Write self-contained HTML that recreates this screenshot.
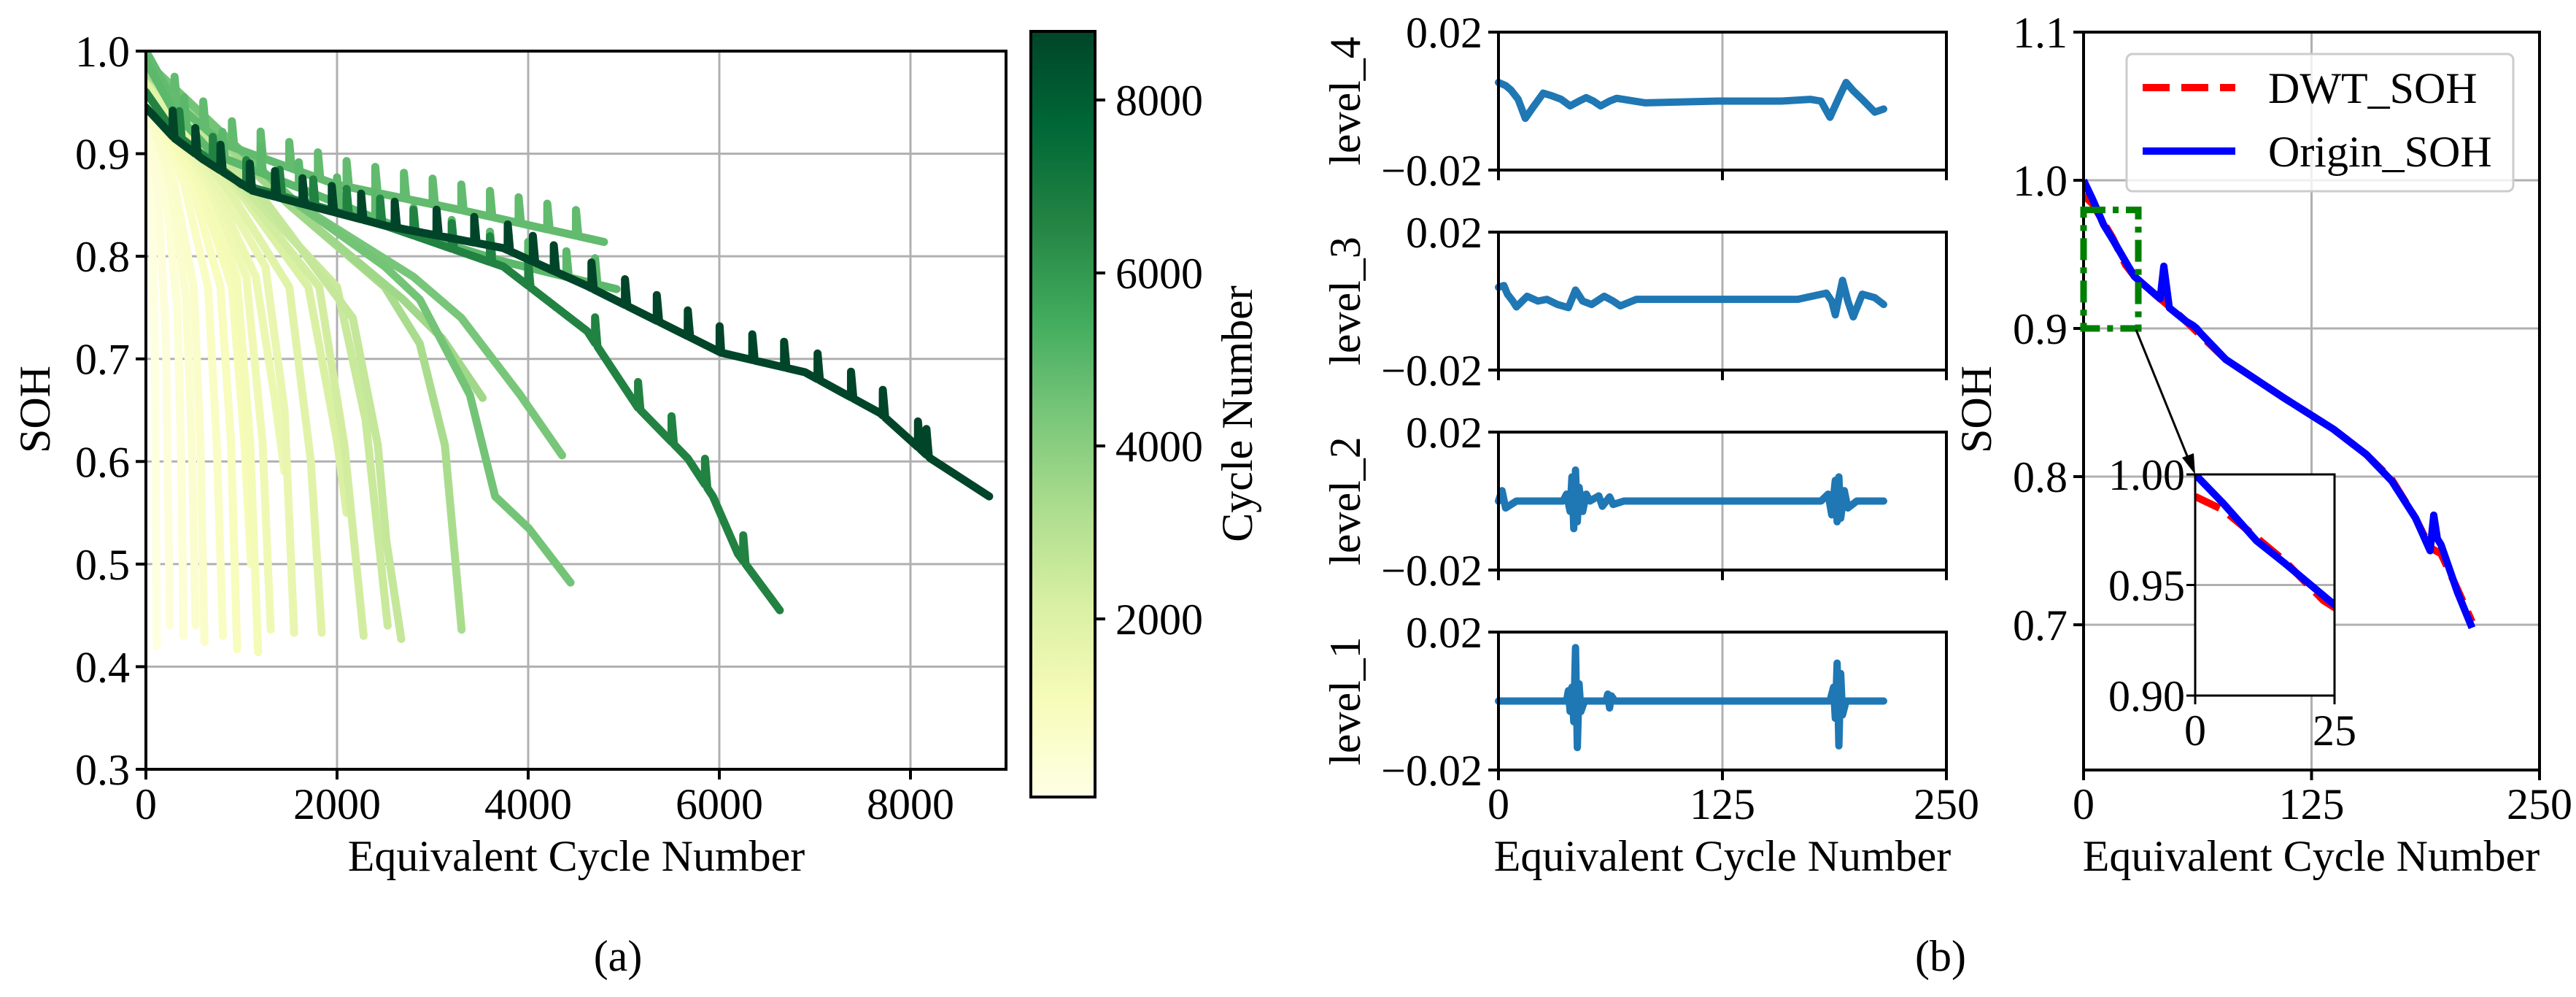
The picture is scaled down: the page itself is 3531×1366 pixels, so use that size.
<!DOCTYPE html>
<html><head><meta charset="utf-8">
<style>
html,body{margin:0;padding:0;background:#fff;width:3531px;height:1366px;overflow:hidden;}
svg{display:block;font-family:"Liberation Serif","Times New Roman",serif;}
svg text{font-family:"Liberation Serif","Times New Roman",serif !important;font-size:60px;fill:#000;}
</style></head>
<body>
<svg id="fig" width="3531" height="1366" viewBox="0 0 3531 1366" xmlns="http://www.w3.org/2000/svg">
<defs>
<linearGradient id="cbgrad" x1="0" y1="1" x2="0" y2="0">
<stop offset="0" stop-color="#ffffe5"/><stop offset="0.125" stop-color="#f7fcb9"/><stop offset="0.25" stop-color="#d9f0a3"/><stop offset="0.375" stop-color="#addd8e"/><stop offset="0.5" stop-color="#78c679"/><stop offset="0.625" stop-color="#41ab5d"/><stop offset="0.75" stop-color="#238443"/><stop offset="0.875" stop-color="#006837"/><stop offset="1" stop-color="#004529"/>
</linearGradient>
<clipPath id="clipA"><rect x="200" y="70" width="1179" height="983"/></clipPath>
<clipPath id="clipR"><rect x="2856" y="44" width="625" height="1011"/></clipPath>
<clipPath id="clipI"><rect x="3009" y="650" width="191" height="304"/></clipPath>
</defs>
<g id="root"></g>
</svg>
<script>
// ---------- Panel (a) data ----------
const curveCycles = [120,250,400,520,620,800,960,1100,1180,1310,1450,1560,1850,2100,2300,2550,2690,3320,3530,4360,4450,4800,4930,6650,8800];
const curvePoints = [
 [[0,0.93],[60,0.86],[95,0.7],[114,0.42]],
 [[0,0.94],[130,0.86],[210,0.72],[250,0.44]],
 [[0,0.95],[200,0.87],[330,0.75],[370,0.6],[394,0.43]],
 [[0,0.95],[260,0.87],[420,0.76],[480,0.62],[520,0.44]],
 [[0,0.95],[300,0.87],[500,0.77],[570,0.62],[613,0.424]],
 [[0,0.96],[400,0.87],[650,0.77],[740,0.62],[806,0.43]],
 [[0,0.96],[480,0.87],[780,0.77],[890,0.62],[955,0.417]],
 [[0,0.96],[550,0.87],[900,0.77],[1030,0.62],[1100,0.50]],
 [[0,0.97],[600,0.87],[950,0.78],[1090,0.62],[1174,0.414]],
 [[0,0.97],[650,0.87],[1050,0.78],[1220,0.62],[1306,0.436]],
 [[0,0.97],[700,0.87],[1150,0.78],[1350,0.66],[1450,0.59]],
 [[0,0.97],[750,0.87],[1250,0.79],[1450,0.65],[1551,0.433]],
 [[0,0.97],[900,0.86],[1500,0.77],[1726,0.6],[1840,0.433]],
 [[0,0.98],[1000,0.86],[1700,0.77],[2000,0.62],[2100,0.55]],
 [[0,0.98],[1000,0.865],[1814,0.77],[2077,0.616],[2278,0.43]],
 [[0,0.98],[1100,0.86],[2000,0.77],[2300,0.64],[2530,0.44]],
 [[0,0.98],[1200,0.86],[2164,0.74],[2427,0.616],[2515,0.523],[2672,0.427]],
 [[0,0.98],[1500,0.85],[2500,0.77],[2865,0.715],[3128,0.616],[3303,0.436]],
 [[0,0.99],[1500,0.85],[2690,0.758],[3100,0.72],[3523,0.662]],
 [[0,0.99],[1600,0.85],[2800,0.78],[3300,0.74],[3915,0.665],[4355,0.606]],
 [[0,0.99],[1600,0.85],[2500,0.79],[2865,0.758],[3390,0.665],[3654,0.566],[4005,0.535],[4443,0.482]],
 [[0,1.0],[300,0.95],[800,0.91],[1989,0.87],[3300,0.845],[4793,0.814]],
 [[0,0.99],[300,0.94],[700,0.90],[2865,0.82],[3740,0.795],[4925,0.768]],
 [[0,0.96],[300,0.92],[1000,0.87],[2500,0.83],[3740,0.79],[4618,0.727],[5144,0.653],[5670,0.603],[5933,0.566],[6195,0.51],[6633,0.455]],
 [[0,0.945],[300,0.915],[590,0.895],[1113,0.864],[2500,0.83],[3740,0.808],[4618,0.771],[6020,0.706],[6896,0.687],[7685,0.647],[8211,0.603],[8824,0.566]]
];
const spikes21 = [300,600,900,1200,1500,1800,2100,2400,2700,3000,3300,3600,3900,4200,4500];
const spikes22 = [400,800,1200,1600,2000,2400,2800,3200,3600,4000,4400,4700];
const spikes23 = [350,700,1050,1400,1750,2100,2450,2800,3200,3600,4000,4700,5150,5500,5850,6250];
const spikes24 = [280,517,780,1087,1350,1639,1945,2252,2603,3041,3435,3786,4049,4268,4662,5013,5346,5670,6003,6345,6678,7028,7378,7711,8079,8167];
const xTicksA = [0,2000,4000,6000,8000];
const yTicksA = [0.3,0.4,0.5,0.6,0.7,0.8,0.9,1.0];
const cbTicks = [2000,4000,6000,8000];

// ---------- Panel (b) data ----------
const lvl4 = [[0,0.0054],[4,0.0045],[7,0.0032],[11,0.0005],[15,-0.005],[19,-0.002],[25,0.0023],[30,0.0015],[35,0.0005],[40,-0.0014],[45,0],[49,0.001],[53,0],[57,-0.0014],[62,0],[66,0.0008],[82,-0.0005],[122,0],[158,0],[174,0.0005],[180,0],[185,-0.0047],[190,0.001],[194,0.0054],[198,0.003],[203,0.0005],[210,-0.0032],[215,-0.0023]];
const lvl3 = [[0,0.004],[3,0.0045],[5,0.002],[8,0],[10,-0.0017],[16,0.0014],[22,0],[27,0.0005],[33,-0.001],[39,-0.0019],[43,0.0032],[47,0],[52,-0.001],[59,0.0014],[64,0],[68,-0.0014],[77,0.0005],[167,0.0005],[183,0.0023],[186,0],[188,-0.004],[192,0.006],[195,0],[198,-0.0046],[203,0.002],[210,0.001],[215,-0.001]];
const lvl2 = [[0,0],[2,0.003],[4,-0.002],[10,0],[36,0],[38,0.002],[40,-0.003],[41,0.007],[42,-0.008],[43,0.009],[44,-0.006],[45,0.004],[47,-0.003],[49,0.002],[51,0],[56,0.0015],[58,-0.0015],[62,0.0012],[64,-0.001],[70,0],[180,0],[184,0.002],[186,-0.004],[188,0.006],[189,-0.006],[190,0.007],[191,-0.005],[193,0.003],[195,-0.002],[200,0],[215,0]];
const lvl1 = [[0,0],[38,0],[39,0.003],[40,-0.003],[41,0.004],[42,-0.006],[43,0.0155],[44,-0.0135],[45,0.005],[46,-0.003],[48,0],[60,0],[61,0.002],[62,-0.002],[63,0.0015],[65,0],[185,0],[187,0.004],[188,-0.005],[189,0.011],[190,-0.013],[191,0.008],[192,-0.004],[194,0],[215,0]];
const levelNames = ["level_4","level_3","level_2","level_1"];
const xTicksB = [0,125,250];
const originSOH = [[0,1.0],[5,0.987],[11,0.97],[16,0.96],[25,0.941],[28,0.935],[42,0.92],[44,0.942],[47,0.914],[56,0.905],[60,0.902],[62,0.9],[64,0.897],[78,0.879],[110,0.853],[137,0.832],[155,0.815],[169,0.797],[182,0.772],[190,0.75],[192,0.774],[194,0.758],[196,0.754],[205,0.722],[213,0.698]];
const dwtSOH = [[0,0.99],[5,0.984],[16,0.961],[23,0.943],[28,0.935],[42,0.92],[47,0.915],[56,0.905],[78,0.879],[110,0.853],[137,0.832],[155,0.815],[169,0.798],[182,0.772],[190,0.752],[196,0.748],[205,0.724],[213,0.702]];
const yTicksR = [0.7,0.8,0.9,1.0,1.1];
const yTicksI = [0.90,0.95,1.00];
const xTicksI = [0,25];

// ---------- helpers ----------
const NS="http://www.w3.org/2000/svg";
const root=document.getElementById('root');
function mk(tag,attrs,parent){const e=document.createElementNS(NS,tag);for(const k in attrs)e.setAttribute(k,attrs[k]);(parent||root).appendChild(e);return e;}
function ptsStr(arr,sx,sy){return arr.map(p=>sx(p[0]).toFixed(1)+','+sy(p[1]).toFixed(1)).join(' ');}
const ylgn=["#ffffe5","#f7fcb9","#d9f0a3","#addd8e","#78c679","#41ab5d","#238443","#006837","#004529"];
function hex2rgb(h){return [parseInt(h.slice(1,3),16),parseInt(h.slice(3,5),16),parseInt(h.slice(5,7),16)];}
function cmap(t){t=Math.max(0,Math.min(1,t));const f=t*8,i=Math.min(7,Math.floor(f)),r=f-i;const a=hex2rgb(ylgn[i]),b=hex2rgb(ylgn[i+1]);return 'rgb('+a.map((v,k)=>Math.round(v+(b[k]-v)*r)).join(',')+')';}
function interp(arr,x){for(let i=0;i<arr.length-1;i++){if(x>=arr[i][0]&&x<=arr[i+1][0]){const t=(x-arr[i][0])/(arr[i+1][0]-arr[i][0]);return arr[i][1]+t*(arr[i+1][1]-arr[i][1]);}}return arr[arr.length-1][1];}
function txt(x,y,s,anchor,parent,extra){const t=mk('text',Object.assign({x:x,y:y,'text-anchor':anchor||'middle','font-family':'Liberation Serif, serif'},extra||{}),parent);t.textContent=s;return t;}

// ---------- Panel (a) ----------
const AX={l:200,r:1379,t:70,b:1054};
const xA=v=>AX.l+(v/9000)*(AX.r-AX.l);
const yA=v=>AX.b-(v-0.3)/0.7*(AX.b-AX.t);
const gA=mk('g',{});


xTicksA.forEach(v=>{if(v>0){const l=mk('line',{x1:xA(v),x2:xA(v),y1:AX.t,y2:AX.b,stroke:'#b0b0b0','stroke-width':3},gA);}});
yTicksA.forEach(v=>{if(v>0.3&&v<1.0){const l=mk('line',{x1:AX.l,x2:AX.r,y1:yA(v),y2:yA(v),stroke:'#b0b0b0','stroke-width':3},gA);}});
const curvesG=mk('g',{'clip-path':'url(#clipA)'},gA);


const spikeMap={21:spikes21,22:spikes22,23:spikes23,24:spikes24};
const cbMin=-60,cbMax=8793;
curveCycles.forEach((c,i)=>{
  let pts=curvePoints[i].slice();
  const sp=spikeMap[i];
  if(sp){
    const base=pts;
    let all=[...base];
    sp.forEach(s=>{const y=interp(base,s);all.push([s-1,y,0],[s,y+0.025,1],[s+25,interp(base,s+25),2]);});
    all.sort((a,b)=>a[0]-b[0]||((a[2]||0)-(b[2]||0)));
    pts=all;
  }
  const pl=mk('polyline',{points:ptsStr(pts,xA,yA),fill:'none',stroke:cmap((c-cbMin)/(cbMax-cbMin)),'stroke-width':11,'stroke-linejoin':'round','stroke-linecap':'round'},curvesG);
  
  
});
const frA=mk('rect',{x:AX.l,y:AX.t,width:AX.r-AX.l,height:AX.b-AX.t,fill:'none',stroke:'#000','stroke-width':4},gA);


xTicksA.forEach(v=>{mk('line',{x1:xA(v),x2:xA(v),y1:AX.b,y2:AX.b+14,stroke:'#000','stroke-width':4},gA);const t=txt(xA(v),1122,String(v),'middle',gA);});
yTicksA.forEach(v=>{mk('line',{x1:AX.l-14,x2:AX.l,y1:yA(v),y2:yA(v),stroke:'#000','stroke-width':4},gA);const t=txt(AX.l-22,yA(v)+21,v.toFixed(1),'end',gA);});
let t1=txt(790,1193,'Equivalent Cycle Number','middle',gA);


let t2=txt(0,0,'SOH','middle',gA,{transform:'translate(68,561) rotate(-90)'});


// colorbar
const CB={l:1413,r:1501,t:43,b:1092};
const yCB=v=>848-(v-2000)*(711/6000);
const cbr=mk('rect',{x:CB.l,y:CB.t,width:CB.r-CB.l,height:CB.b-CB.t,fill:'url(#cbgrad)',stroke:'#000','stroke-width':4},gA);


cbTicks.forEach(v=>{mk('line',{x1:CB.r,x2:CB.r+14,y1:yCB(v),y2:yCB(v),stroke:'#000','stroke-width':4},gA);const t=txt(CB.r+28,yCB(v)+21,String(v),'start',gA);});
let t3=txt(0,0,'Cycle Number','middle',gA,{transform:'translate(1716,567) rotate(-90)'});


let t4=txt(847,1330,'(a)','middle',gA);



// ---------- Panel (b) levels ----------
const LV={l:2054,r:2668,h:189};
const lvTops=[44,318,592,866];
const lvData=[lvl4,lvl3,lvl2,lvl1];
const xB=v=>LV.l+v/250*(LV.r-LV.l);
lvData.forEach((d,i)=>{
  const top=lvTops[i],bot=top+LV.h;
  const yL=v=>bot-(v+0.02)/0.04*LV.h;
  const g=mk('g',{});
  
  
  mk('line',{x1:xB(125),x2:xB(125),y1:top,y2:bot,stroke:'#b0b0b0','stroke-width':3},g);
  const pl=mk('polyline',{points:ptsStr(d,xB,yL),fill:'none',stroke:'#1f77b4','stroke-width':10,'stroke-linejoin':'round','stroke-linecap':'round'},g);
  
  
  mk('rect',{x:LV.l,y:top,width:LV.r-LV.l,height:LV.h,fill:'none',stroke:'#000','stroke-width':4},g);
  xTicksB.forEach(v=>{mk('line',{x1:xB(v),x2:xB(v),y1:bot,y2:bot+14,stroke:'#000','stroke-width':4},g);
    if(i===3){const t=txt(xB(v),1122,String(v),'middle',g);}});
  [[0.02,'0.02'],[-0.02,'\u22120.02']].forEach(p=>{mk('line',{x1:LV.l-14,x2:LV.l,y1:yL(p[0]),y2:yL(p[0]),stroke:'#000','stroke-width':4},g);const t=txt(LV.l-22,yL(p[0])+21,p[1],'end',g);});
  const lt=txt(0,0,levelNames[i],'middle',g,{transform:'translate(1864,'+(top+LV.h/2)+') rotate(-90)'});
  
  
});
let t5=txt(2361,1193,'Equivalent Cycle Number','middle');



// ---------- Panel (b) SOH ----------
const R={l:2856,r:3481,t:44,b:1055};
const xR=v=>R.l+v/250*(R.r-R.l);
const yR=v=>R.t+(1.1-v)/0.1*203;
const gR=mk('g',{});


mk('line',{x1:xR(125),x2:xR(125),y1:R.t,y2:R.b,stroke:'#b0b0b0','stroke-width':3},gR);
yTicksR.forEach(v=>{if(v<1.1)mk('line',{x1:R.l,x2:R.r,y1:yR(v),y2:yR(v),stroke:'#b0b0b0','stroke-width':3},gR);});
const cR=mk('g',{'clip-path':'url(#clipR)'},gR);
const rl=mk('polyline',{points:ptsStr(dwtSOH,xR,yR),fill:'none',stroke:'#ff0000','stroke-width':10,'stroke-dasharray':'37,16'},cR);


const bl=mk('polyline',{points:ptsStr(originSOH,xR,yR),fill:'none',stroke:'#0000ff','stroke-width':10,'stroke-linejoin':'round'},cR);


mk('rect',{x:R.l,y:R.t,width:R.r-R.l,height:R.b-R.t,fill:'none',stroke:'#000','stroke-width':4},gR);
xTicksB.forEach(v=>{mk('line',{x1:xR(v),x2:xR(v),y1:R.b,y2:R.b+14,stroke:'#000','stroke-width':4},gR);const t=txt(xR(v),1122,String(v),'middle',gR);});
yTicksR.forEach(v=>{mk('line',{x1:R.l-14,x2:R.l,y1:yR(v),y2:yR(v),stroke:'#000','stroke-width':4},gR);const t=txt(R.l-22,yR(v)+21,v.toFixed(1),'end',gR);});
let t6=txt(0,0,'SOH','middle',gR,{transform:'translate(2729,561) rotate(-90)'});


let t7=txt(3168,1193,'Equivalent Cycle Number','middle',gR);


// zoom box
const zb=mk('rect',{x:xR(0),y:yR(0.98),width:xR(30)-xR(0),height:yR(0.9)-yR(0.98),fill:'none',stroke:'#008000','stroke-width':9,'stroke-dasharray':'30,10,8,10'},gR);


const ar=mk('line',{x1:2928,y1:452,x2:3005,y2:642,stroke:'#000','stroke-width':3},gR);


mk('polygon',{points:'3009,650 2991,627 3007,621',fill:'#000'},gR);
// legend
const lg=mk('g',{},gR);


mk('rect',{x:2915,y:74,width:530,height:188,rx:8,fill:'#fff','fill-opacity':0.8,stroke:'#cccccc','stroke-width':3},lg);
mk('line',{x1:2937,x2:3064,y1:120,y2:120,stroke:'#ff0000','stroke-width':10,'stroke-dasharray':'37,16'},lg);
mk('line',{x1:2937,x2:3064,y1:207,y2:207,stroke:'#0000ff','stroke-width':10},lg);
let l1=txt(3109,141,'DWT_SOH','start',lg);


let l2=txt(3109,228,'Origin_SOH','start',lg);


// inset
const I={l:3009,r:3200,t:650,b:953};
const xI=v=>I.l+v/25*(I.r-I.l);
const yI=v=>I.b-(v-0.9)/0.1*(I.b-I.t);
const gI=mk('g',{},gR);


mk('rect',{x:I.l,y:I.t,width:I.r-I.l,height:I.b-I.t,fill:'#fff'},gI);
mk('line',{x1:I.l,x2:I.r,y1:yI(0.95),y2:yI(0.95),stroke:'#b0b0b0','stroke-width':3},gI);
const cI=mk('g',{'clip-path':'url(#clipI)'},gI);
mk('polyline',{points:ptsStr(dwtSOH,xI,yI),fill:'none',stroke:'#ff0000','stroke-width':10,'stroke-dasharray':'37,16'},cI);
mk('polyline',{points:ptsStr(originSOH,xI,yI),fill:'none',stroke:'#0000ff','stroke-width':10},cI);
mk('rect',{x:I.l,y:I.t,width:I.r-I.l,height:I.b-I.t,fill:'none',stroke:'#000','stroke-width':3},gI);
yTicksI.forEach(v=>{mk('line',{x1:I.l-12,x2:I.l,y1:yI(v),y2:yI(v),stroke:'#000','stroke-width':3},gI);const t=txt(I.l-14,yI(v)+21,v.toFixed(2),'end',gI);});
xTicksI.forEach(v=>{mk('line',{x1:xI(v),x2:xI(v),y1:I.b,y2:I.b+12,stroke:'#000','stroke-width':3},gI);const t=txt(xI(v),1021,String(v),'middle',gI);});
let t8=txt(2660,1330,'(b)','middle');


</script>
</body></html>
